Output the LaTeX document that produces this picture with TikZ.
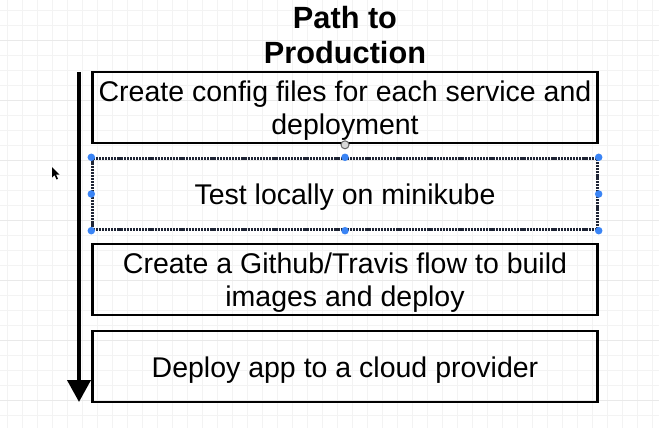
\documentclass[tikz,border=0pt]{standalone}
\usepackage{fontspec}
\setmainfont{Liberation Sans}
\usetikzlibrary{arrows.meta}
\definecolor{gridminor}{RGB}{243,243,243}
\definecolor{gridmajor}{RGB}{233,233,233}
\definecolor{handleblue}{RGB}{58,132,245}
\definecolor{selborder}{RGB}{30,36,52}
\tikzset{
  stepbox/.style={draw=black, line width=2.6pt, minimum width=505pt, minimum height=71pt,
    align=center, inner sep=0pt, font=\fontsize{28.5}{32.5}\selectfont},
  oneline/.style={text height=27pt, text depth=6pt},
  twoline/.style={text height=59.3pt, text depth=6pt},
  selbox/.style={stepbox, draw=selborder, line width=2.4pt, dash pattern=on 2.2pt off 0.9pt},
  handle/.style={circle, fill=handleblue, inner sep=0pt, minimum size=7.5pt},
  rothandle/.style={circle, draw=black!60, fill=black!15, line width=1pt, inner sep=0pt, minimum size=8pt},
  titlebox/.style={align=center, inner sep=0pt, font=\fontsize{30.7}{35}\selectfont\bfseries},
  flowarrow/.style={line width=4pt, -{Triangle[width=23pt,length=22pt]}}
}
\begin{document}
\begin{tikzpicture}[x=1pt,y=-1pt]
\useasboundingbox (0,0) rectangle (659,428);
\fill[white] (0,0) rectangle (659,428);
% grid
\foreach \i in {0,...,43} {
  \draw[gridminor, line width=0.8pt] ({7+15*\i},0) -- ({7+15*\i},428);
}
\foreach \j in {0,...,28} {
  \draw[gridminor, line width=0.8pt] (0,{10+15*\j}) -- (659,{10+15*\j});
}
\foreach \j in {-1,...,5} {
  \draw[gridmajor, line width=0.8pt] (0,{100+60*\j}) -- (659,{100+60*\j});
}
% title
\node[titlebox] (title) at (345,35) {Path to\\Production};
% boxes
\node[stepbox, twoline] (b1) at (345,107.5) {Create config files for each service and\\deployment};
\node[selbox, oneline] (b2) at (345,194) {Test locally on minikube};
\node[stepbox, twoline] (b3) at (345,279.5) {Create a Github/Travis flow to build\\images and deploy};
\node[stepbox, oneline] (b4) at (345,366.5) {Deploy app to a cloud provider};
% arrow
\coordinate (atop) at (79,72);
\coordinate (abot) at (79,402);
\draw[flowarrow] (atop) -- (abot);
% selection handles
\foreach \a in {north west,north,north east,west,east,south west,south,south east} {
  \node[handle] at (b2.\a) {};
}
\node[rothandle] (rot) at ([yshift=-0.5pt]b1.south) {};
% cursor
\fill[black] (52,167) -- (52,177.5) -- (54.5,175) -- (56.5,179.5) -- (58,178.8) -- (56,174.5) -- (59.5,174.5) -- cycle;
\end{tikzpicture}
\end{document}
